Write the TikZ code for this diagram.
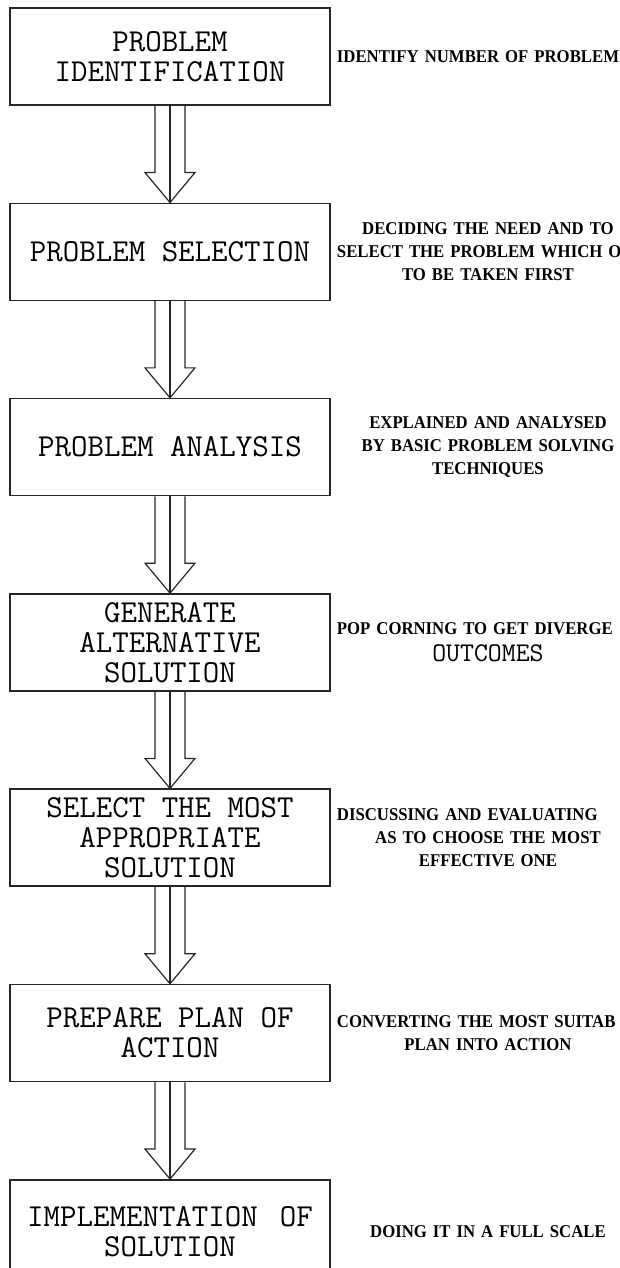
\documentclass[tikz,border=0pt]{standalone}
\usepackage{fontspec}
\usetikzlibrary{positioning,calc}
\newfontfamily\notefont{Liberation Serif Bold}[FakeStretch=0.93]
\newcommand\longline[1]{\makebox[302pt][l]{#1}}

\begin{document}
\begin{tikzpicture}[x=1pt,y=-1pt,line join=miter]
	\tikzset{stage/.style={draw=black!85,line width=1.5pt,minimum width=320pt,minimum height=97pt,inner sep=0pt,align=center,font=\ttfamily\fontsize{32}{30}\selectfont},
		note/.style={text width=302pt,inner sep=0pt,align=center,font=\notefont\fontsize{18}{23}\selectfont},
		flow/.style={draw=black!85,line width=1.2pt}}
	\useasboundingbox (0,0) rectangle (620,1268);
	\clip (0,0) rectangle (620,1268);
	% Các bước (khung bên trái)
	\node[stage] (s1) at (170,56.5) {PROBLEM\\IDENTIFICATION};
	\node[stage,below=96.8pt of s1] (s2) {PROBLEM SELECTION};
	\node[stage,below=96.8pt of s2] (s3) {PROBLEM ANALYSIS};
	\node[stage,below=96.8pt of s3] (s4) {GENERATE\\ALTERNATIVE\\SOLUTION};
	\node[stage,below=96.8pt of s4] (s5) {SELECT THE MOST\\APPROPRIATE\\SOLUTION};
	\node[stage,below=96.8pt of s5] (s6) {PREPARE PLAN OF\\ACTION};
	\node[stage,below=96.8pt of s6,minimum height=104pt] (s7) {IMPLEMENTATION\hspace{22pt}OF\\SOLUTION};
	% Ghi chú bên phải
	\node[note,right=6pt of s1] (n1) {\longline{IDENTIFY NUMBER OF PROBLEM}};
	\node[note,right=6pt of s2] (n2) {DECIDING THE NEED AND TO\\\longline{SELECT THE PROBLEM WHICH O}\\TO BE TAKEN FIRST};
	\node[note,right=6pt of s3] (n3) {EXPLAINED AND ANALYSED\\BY BASIC PROBLEM SOLVING\\TECHNIQUES};
	\node[note,right=6pt of s4] (n4) {\longline{POP CORNING TO GET DIVERGE}\\[4pt]{\ttfamily\fontsize{27}{28}\selectfont OUTCOMES}};
	\node[note,right=6pt of s5] (n5) {\longline{DISCUSSING AND EVALUATING}\\AS TO CHOOSE THE MOST\\EFFECTIVE ONE};
	\node[note,right=6pt of s6] (n6) {\longline{CONVERTING THE MOST SUITAB}\\PLAN INTO ACTION};
	\node[note,right=6pt of s7] (n7) {DOING IT IN A FULL SCALE};
	% Mũi tên rỗng giữa các bước
	\foreach \src/\dst in {s1/s2,s2/s3,s3/s4,s4/s5,s5/s6,s6/s7}{
		\draw[flow] ($(\src.south)+(-15,0)$) -- ($(\dst.north)+(-15,-30)$) -- ++(-10,0) -- (\dst.north) -- ++(25,-30) -- ++(-10,0) -- ($(\src.south)+(15,0)$);
		\draw[flow] (\src.south) -- (\dst.north);
	}
\end{tikzpicture}
\end{document}
